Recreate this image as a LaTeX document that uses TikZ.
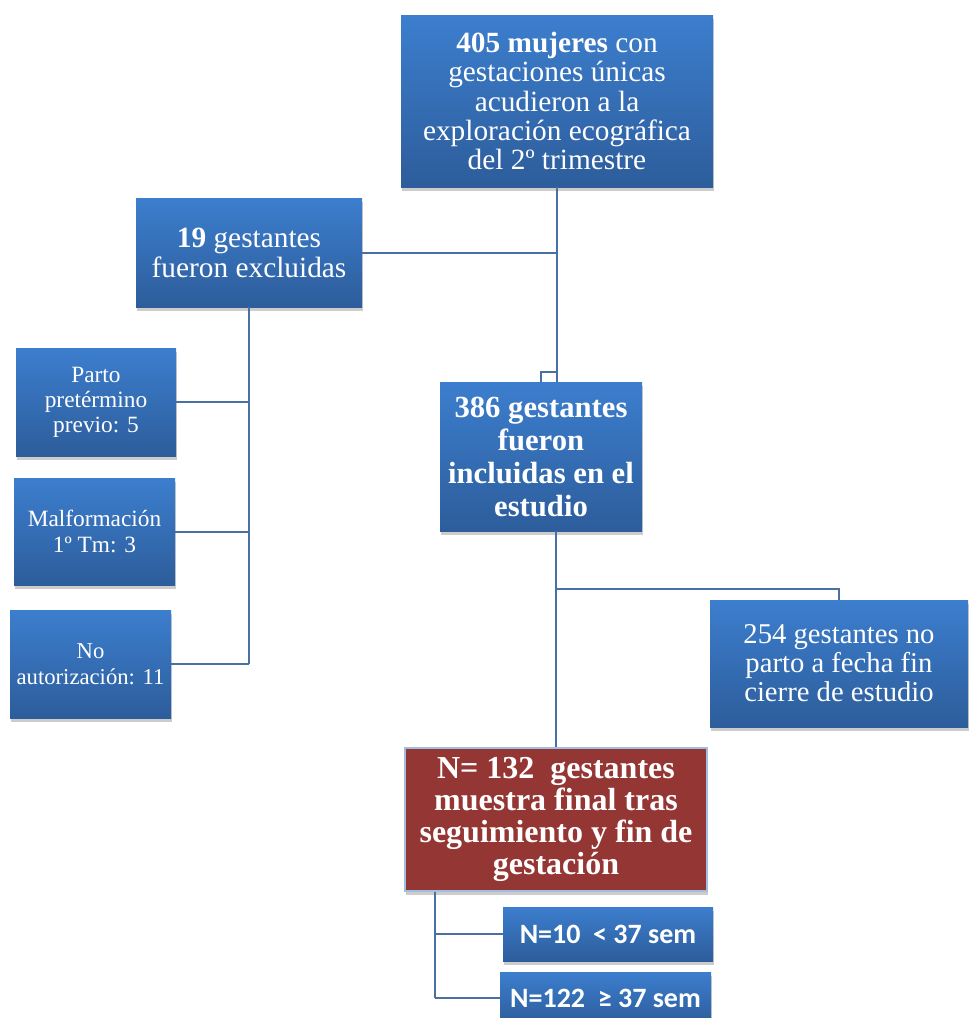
\documentclass[tikz,border=0pt]{standalone}
\usepackage{fontspec}
\setmainfont{Liberation Serif}
\newfontfamily\calibri{Carlito}
\usetikzlibrary{shadows}

\definecolor{boxtop}{RGB}{60,126,206}
\definecolor{boxbot}{RGB}{45,93,155}
\definecolor{linkcol}{RGB}{72,112,164}
\definecolor{finalred}{RGB}{148,54,52}
\definecolor{finaledge}{RGB}{160,190,225}

\tikzset{
  base/.style={text=white, align=center, inner sep=2pt,
    drop shadow={shadow xshift=1pt, shadow yshift=-3pt, opacity=0.4}},
  box/.style={base, top color=boxtop, bottom color=boxbot},
  redbox/.style={base, fill=finalred, draw=finaledge, line width=1pt},
  link/.style={draw=linkcol, line width=1.5pt},
}

\begin{document}
\begin{tikzpicture}[x=0.75pt, y=-0.75pt]
    \useasboundingbox (0,0) rectangle (968,1018);
    \node[box, minimum width=234pt, minimum height=129pt, font=\fontsize{22}{22}\selectfont] (total) at (557,101)
        {\textbf{405 mujeres} con\\gestaciones únicas\\acudieron a la\\exploración ecográfica\\del 2º trimestre};
    \node[box, minimum width=169.5pt, minimum height=81.75pt, font=\fontsize{22}{22.5}\selectfont] (excl) at (249,252.5)
        {\textbf{19} gestantes\\fueron excluidas};
    \node[box, minimum width=120pt, minimum height=81pt, font=\fontsize{17.5}{18.75}\selectfont] (parto) at (96,402)
        {Parto\\pretérmino\\previo: 5};
    \node[box, minimum width=120.75pt, minimum height=80.25pt, font=\fontsize{17.5}{19.5}\selectfont] (malf) at (94.5,531.5)
        {Malformación\\1º Tm: 3};
    \node[box, minimum width=120.75pt, minimum height=81pt, font=\fontsize{17}{19.5}\selectfont] (noaut) at (90.5,664)
        {No\\autorización: 11};
    \node[box, minimum width=151.5pt, minimum height=111.75pt, font=\bfseries\fontsize{23}{24.75}\selectfont] (incl) at (541,456.5)
        {386 gestantes\\fueron\\incluidas en el\\estudio};
    \node[box, minimum width=193.5pt, minimum height=95.25pt, font=\fontsize{21.5}{21.75}\selectfont] (nopart) at (839,663.5)
        {254 gestantes no\\parto a fecha fin\\cierre de estudio};
    \node[redbox, minimum width=226.5pt, minimum height=107.25pt, font=\bfseries\fontsize{24}{24}\selectfont] (final) at (556,819.5)
        {N= 132~~gestantes\\muestra final tras\\seguimiento y fin de\\gestación};
    \node[box, minimum width=157.5pt, minimum height=40.5pt, font=\calibri\bfseries\fontsize{21}{22}\selectfont] (lt37) at (608,934)
        {N=10~~< 37 sem};
    \node[box, minimum width=158.25pt, minimum height=39pt, font=\calibri\bfseries\fontsize{21}{22}\selectfont] (ge37) at (605.5,998)
        {N=122~~≥ 37 sem};

    \coordinate (split1) at (557,372);
    \coordinate (split2) at (556,589);
    \coordinate (trunk) at (435,0);
    \draw[link] (total.south) -- (total.south |- incl.north);
    \draw[link] (total.south |- split1) -| (incl.north);
    \draw[link] (excl.east) -- (excl.east -| total.south);
    \draw[link] (excl.south) -- (excl.south |- noaut.east);
    \foreach \n in {parto,malf,noaut}
        \draw[link] (\n.east) -- (\n.east -| excl.south);
    \draw[link] (incl.south -| final.north) -- (final.north);
    \draw[link] (split2) -| (nopart.north);
    \draw[link] (final.south -| trunk) -- (ge37.west -| trunk);
    \foreach \n in {lt37,ge37}
        \draw[link] (\n.west -| trunk) -- (\n.west);
\end{tikzpicture}
\end{document}
